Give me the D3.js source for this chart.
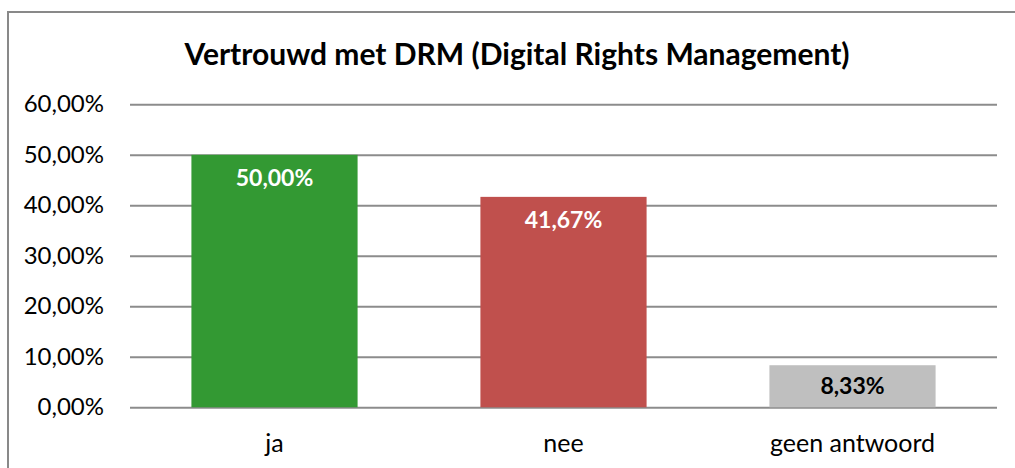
<!DOCTYPE html>
<html>
<head>
<meta charset="utf-8">
<script src="https://cdn.jsdelivr.net/npm/d3@7"></script>
<style>
  body { margin: 0; background: #fff; }
  svg { display: block; font-family: Lato, "Open Sans", sans-serif; }
</style>
</head>
<body>
<div id="chart"></div>
<script>
const title = "Vertrouwd met DRM (Digital Rights Management)"
const categories = ["ja", "nee", "geen antwoord"]
const values = [0.5, 0.4167, 0.0833]
const barColors = ["#339933", "#c0504d", "#bfbfbf"]
const labelColors = ["#ffffff", "#ffffff", "#000000"]
const yTicks = [0, 0.1, 0.2, 0.3, 0.4, 0.5, 0.6]

const data = categories.map((c, i) => ({cat: c, value: values[i], color: barColors[i], labelColor: labelColors[i]}))

const nl = d3.formatLocale({decimal: ",", thousands: ".", grouping: [3], currency: ["€", ""]})
const pct = nl.format(".2%")

const width = 1015, height = 468
const plot = {left: 130, right: 997, top: 104.3, bottom: 407.3}

const svg = d3.select("#chart")
  .append("svg")
    .attr("width", width)
    .attr("height", height)

// chart frame
svg.append("rect")
  .attr("x", 8).attr("y", 12)
  .attr("width", 1030).attr("height", 480)
  .attr("fill", "#fff")
  .attr("stroke", "#898989")
  .attr("stroke-width", 2)

svg.append("text")
  .attr("x", 517).attr("y", 65)
  .attr("text-anchor", "middle")
  .attr("font-size", 30)
  .attr("font-weight", "bold")
  .attr("fill", "#000")
  .text(title)

const x = d3.scaleBand()
  .domain(categories)
  .range([plot.left, plot.right])
  .paddingInner(0.425)
  .paddingOuter(0.2125)

const y = d3.scaleLinear()
  .domain([0, 0.6])
  .range([plot.bottom, plot.top])

const yAxis = svg.append("g")
  .attr("transform", `translate(${plot.left},0)`)
  .call(d3.axisLeft(y)
    .tickValues(yTicks)
    .tickFormat(pct)
    .tickSize(-(plot.right - plot.left))
    .tickPadding(26))
yAxis.select(".domain").remove()
yAxis.selectAll("line")
  .attr("stroke", "#8c8c8c")
  .attr("stroke-width", 2)
yAxis.selectAll("text")
  .attr("font-size", 24)
  .attr("font-family", "Lato, sans-serif")
  .attr("fill", "#000")

const bars = svg.append("g")
bars.selectAll("rect")
  .data(data).enter()
  .append("rect")
    .attr("x", d => x(d.cat))
    .attr("y", d => y(d.value))
    .attr("width", x.bandwidth())
    .attr("height", d => y(0) - y(d.value))
    .attr("fill", d => d.color)

bars.selectAll("text")
  .data(data).enter()
  .append("text")
    .attr("x", d => x(d.cat) + x.bandwidth() / 2)
    .attr("y", d => Math.min(y(d.value) + 31, (y(d.value) + y(0)) / 2 + 7.5))
    .attr("text-anchor", "middle")
    .attr("font-size", 23)
    .attr("font-weight", "bold")
    .attr("fill", d => d.labelColor)
    .text(d => pct(d.value))

const xAxis = svg.append("g")
  .attr("transform", `translate(0,${plot.bottom})`)
  .call(d3.axisBottom(x).tickSize(0).tickPadding(0))
xAxis.select(".domain").remove()
xAxis.selectAll("text")
  .attr("dy", null)
  .attr("y", 45)
  .attr("font-size", 25)
  .attr("font-family", "Lato, sans-serif")
  .attr("fill", "#000")
</script>
</body>
</html>
